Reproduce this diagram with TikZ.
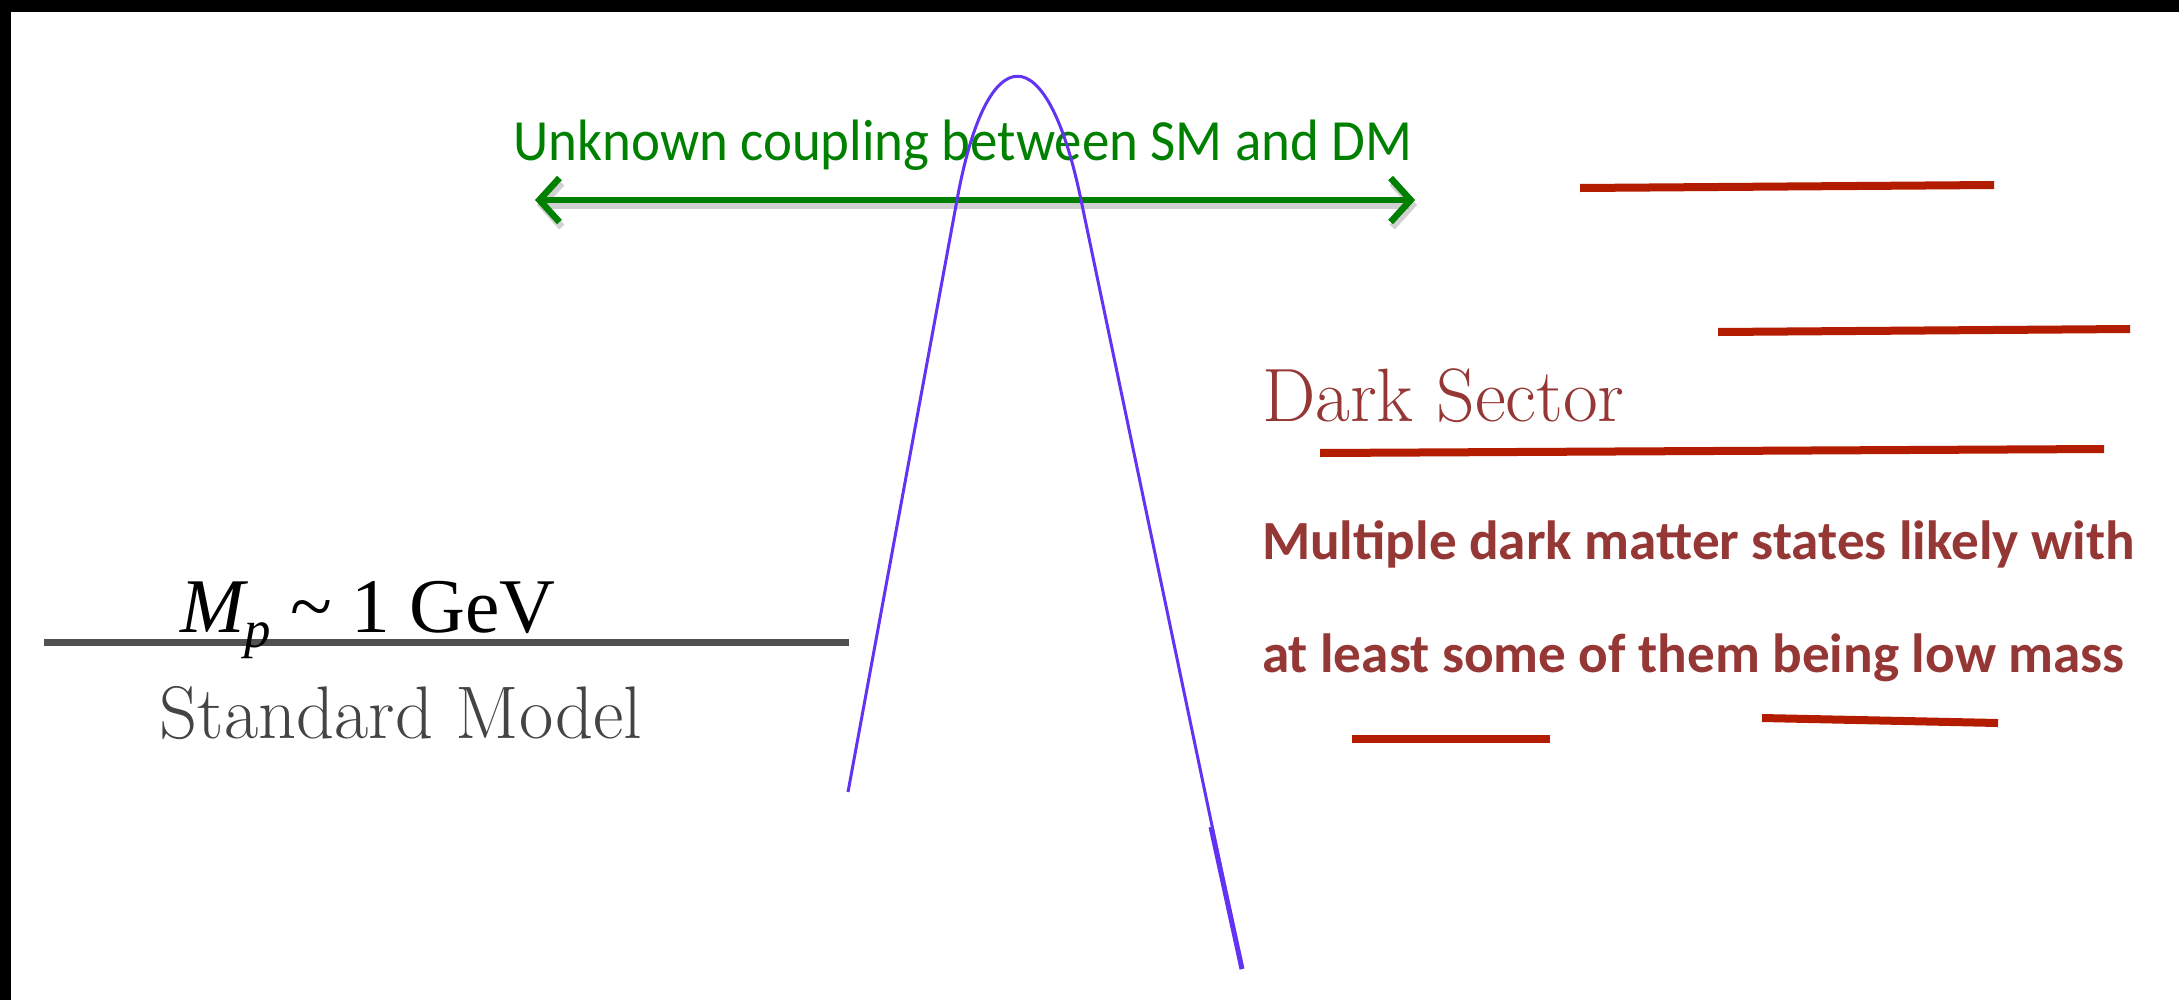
\documentclass[tikz,border=0pt]{standalone}
\usepackage{fontspec}
\newfontfamily\calibri{Carlito}
\newfontfamily\timesf{Liberation Serif}
\usetikzlibrary{arrows.meta}

\definecolor{dsred}{RGB}{149,55,53}
\definecolor{lvlred}{RGB}{180,28,0}
\definecolor{smgray}{RGB}{68,68,68}
\definecolor{bargray}{RGB}{80,80,80}
\definecolor{cgreen}{RGB}{0,128,0}
\definecolor{cblue}{RGB}{98,51,242}

\tikzset{
  level/.style={draw=lvlred, line width=0.08cm},
  smlevel/.style={draw=bargray, line width=0.07cm},
  coupling/.style={draw=cgreen, line width=0.065cm,
    {Straight Barb[length=0.2cm,width=0.44cm]}-{Straight Barb[length=0.2cm,width=0.44cm]}},
  shadowline/.style={draw=black, opacity=0.18, line width=0.07cm,
    {Straight Barb[length=0.2cm,width=0.44cm]}-{Straight Barb[length=0.2cm,width=0.44cm]}},
  peak/.style={draw=cblue, line width=0.03cm, line join=round},
  lbl/.style={inner sep=0pt, outer sep=0pt}
}

\begin{document}
\begin{tikzpicture}[x=0.01cm, y=-0.01cm]
  % canvas and frame edges
  \fill[white] (0,0) rectangle (2179,1000);
  \fill[black] (0,0) rectangle (2179,12);
  \fill[black] (0,0) rectangle (11,1000);
  \useasboundingbox (0,0) rectangle (2179,1000);

  % coupling arrow
  \coordinate (cl) at (535,200);
  \coordinate (cr) at (1415,200);
  \draw[shadowline] ([shift={(2,5)}]cl) -- ([shift={(2,5)}]cr);
  \draw[coupling] (cl) -- (cr);
  \node[lbl, anchor=base, text=cgreen, font=\calibri\fontsize{16.6pt}{20pt}\selectfont]
    (coup) at (963,160) {\scalebox{0.94}[1]{Unknown coupling between SM and DM}};

  % Standard Model level
  \coordinate (sm1) at (44,642);
  \coordinate (sm2) at (849,642);
  \draw[smlevel] (sm1) -- (sm2);
  \node[lbl, anchor=base, font=\timesf\fontsize{22pt}{26pt}\selectfont]
    (mp) at (368,632) {\itshape M\raisebox{-0.2em}{\fontsize{15pt}{16pt}\selectfont p}\upshape\ \textasciitilde\ 1 GeV};
  \node[lbl, anchor=base, text=smgray, font=\fontsize{21.2pt}{24pt}\selectfont]
    (sm) at (401,738) {Standard Model};

  % dark sector levels
  \draw[level] (1580,188) -- (1994,185);
  \draw[level] (1718,332) -- (2130,329);
  \draw[level] (1320,453) -- (2104,449);
  \draw[level] (1352,739) -- (1550,739);
  \draw[level] (1762,718) -- (1998,723);

  \node[lbl, anchor=base west, text=dsred, font=\fontsize{21.5pt}{25pt}\selectfont]
    (ds) at (1262,421) {Dark Sector};
  \node[lbl, anchor=base west, text=dsred, font=\calibri\bfseries\fontsize{15.7pt}{18pt}\selectfont]
    (ds1) at (1262,559) {Multiple dark matter states likely with};
  \node[lbl, anchor=base west, text=dsred, font=\calibri\bfseries\fontsize{15.7pt}{18pt}\selectfont]
    (ds2) at (1262,672) {at least some of them being low mass};

  % peaked curve
  \draw[peak] (848,792) -- (957,200) .. controls (987,35) and (1047,35) .. (1081,200) -- (1242,969);
  \draw[draw=cblue, line width=0.05cm] (1211,827) -- (1242,969);
\end{tikzpicture}
\end{document}
